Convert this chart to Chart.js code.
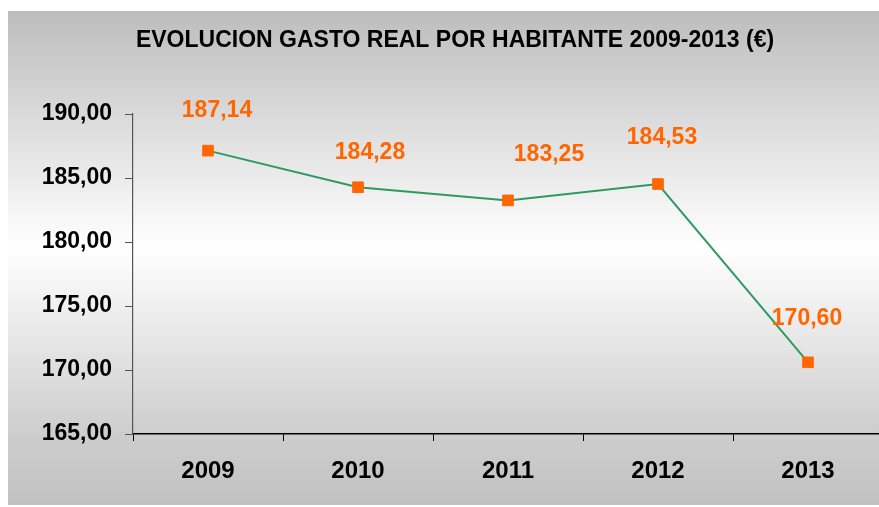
<!DOCTYPE html>
<html>
<head>
<meta charset="utf-8">
<script src="https://cdn.jsdelivr.net/npm/chart.js@4.4.1/dist/chart.umd.min.js"></script>
<style>
  html, body { margin: 0; padding: 0; background: #fff; overflow: hidden; }
  #wrap { position: absolute; left: 0; top: 0; width: 900px; height: 507px; }
</style>
</head>
<body>
<div id="wrap"><canvas id="chart" width="900" height="507"></canvas></div>
<script>
// Chart data
const years = ['2009', '2010', '2011', '2012', '2013'];
const gasto = [187.14, 184.28, 183.25, 184.53, 170.60];
const yTicks = [165, 170, 175, 180, 185, 190];

// label nudges (px), the original labels were placed by hand
const labelDx = [9, 12, 41, 4, -1];
const labelDy = [-40, -35, -46, -46, -44];

const FONT = '"Liberation Sans", Arial, sans-serif';
const fmt = v => v.toFixed(2).replace('.', ',');

// Gray / white / gray background behind the whole chart
const bgPlugin = {
  id: 'bg',
  beforeDraw(chart) {
    const ctx = chart.ctx;
    const g = ctx.createLinearGradient(0, 11, 0, 505);
    g.addColorStop(0, '#bdbdbd');
    g.addColorStop(0.48, '#ffffff');
    g.addColorStop(0.86, '#cdcdcd');
    g.addColorStop(1, '#c2c2c2');
    ctx.save();
    ctx.fillStyle = g;
    ctx.fillRect(8, 11, chart.width - 8, 494);
    ctx.restore();
  }
};

// Orange value labels above the markers
const valueLabels = {
  id: 'valueLabels',
  afterDatasetsDraw(chart) {
    const ctx = chart.ctx;
    const meta = chart.getDatasetMeta(0);
    ctx.save();
    ctx.font = 'bold 23px ' + FONT;
    ctx.fillStyle = '#ff6600';
    ctx.textAlign = 'center';
    ctx.textBaseline = 'middle';
    meta.data.forEach((pt, i) => {
      ctx.fillText(fmt(gasto[i]), pt.x + labelDx[i], pt.y + labelDy[i]);
    });
    ctx.restore();
  }
};

new Chart(document.getElementById('chart'), {
  type: 'line',
  data: {
    labels: years,
    datasets: [{
      data: gasto,
      borderColor: '#2e9a5e',
      borderWidth: 2,
      tension: 0,
      pointStyle: 'rect',
      pointRadius: 7.5,
      pointBackgroundColor: '#ff6600',
      pointBorderColor: '#ff6600',
      pointBorderWidth: 1
    }]
  },
  options: {
    responsive: false,
    animation: false,
    layout: { padding: { left: 27, right: 17, top: 0, bottom: 0 } },
    plugins: {
      legend: { display: false },
      tooltip: { enabled: false },
      title: {
        display: true,
        text: 'EVOLUCION GASTO REAL POR HABITANTE 2009-2013 (€)',
        color: '#000',
        font: { family: FONT, size: 23, weight: 'bold', lineHeight: 1.2 },
        padding: { top: 26.7, bottom: 59.7 }
      }
    },
    scales: {
      x: {
        offset: true,
        grid: { display: true, offset: true, drawOnChartArea: false, drawTicks: true, tickLength: 7, color: '#000' },
        border: { display: true, color: '#000', width: 1.5 },
        ticks: { color: '#000', padding: 16, font: { family: FONT, size: 24, weight: 'bold' } },
        afterFit(scale) { scale.height = 73; }
      },
      y: {
        min: 165,
        max: 190,
        afterBuildTicks(scale) { scale.ticks = yTicks.map(v => ({ value: v })); },
        grid: { display: true, drawOnChartArea: false, drawTicks: true, tickLength: 8, color: '#555' },
        border: { display: true, color: '#555', width: 1.2 },
        ticks: {
          color: '#000',
          padding: 13,
          font: { family: FONT, size: 23, weight: 'bold' },
          callback: v => fmt(v)
        },
        afterFit(scale) { scale.width = 106; }
      }
    }
  },
  plugins: [bgPlugin, valueLabels]
});
</script>
</body>
</html>
